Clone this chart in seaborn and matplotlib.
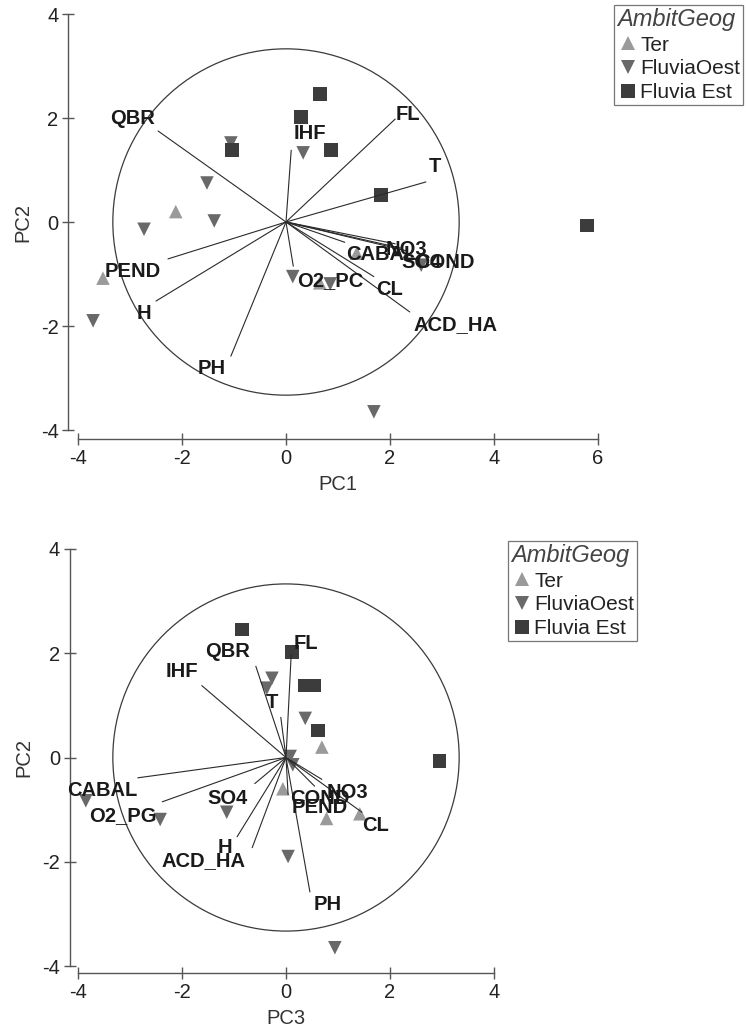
import pandas as pd
import matplotlib.pyplot as plt
import seaborn as sns
from matplotlib.patches import Circle

sns.set_style("white")
plt.rcParams['font.family'] = ['Liberation Sans', 'DejaVu Sans']
plt.rcParams['axes.unicode_minus'] = False

# /* observacions: ambit geografic i coordenades als components */
ambit = ["Ter"] * 4 + ["FluviaOest"] * 10 + ["Fluvia Est"] * 6
pc1 = [-2.12, -3.52, 1.36, 0.65,
       -1.06, 0.33, -1.52, -1.38, -2.73, -3.71, 0.13, 0.85, 2.60, 1.69,
       0.65, 0.29, 0.87, -1.04, 1.83, 5.79]
pc2 = [0.20, -1.08, -0.60, -1.17,
       1.52, 1.33, 0.75, 0.02, -0.14, -1.90, -1.05, -1.19, -0.83, -3.65,
       2.46, 2.02, 1.38, 1.38, 0.52, -0.07]
pc3 = [0.69, 1.42, -0.06, 0.78,
       -0.27, -0.37, 0.37, 0.08, 0.13, 0.04, -1.14, -2.42, -3.85, 0.94,
       -0.85, 0.12, 0.54, 0.37, 0.62, 2.95]

# /* carregues de les variables */
variables = ["QBR", "IHF", "FL", "T", "CABAL", "NO3", "SO4", "COND",
             "O2_PC", "CL", "ACD_HA", "PEND", "H", "PH"]
load_pc1 = [-2.46, 0.10, 2.10, 2.69, 1.13, 2.10, 2.20, 2.30,
            0.14, 1.69, 2.38, -2.27, -2.50, -1.06]
load_pc2 = [1.75, 1.38, 1.98, 0.77, -0.39, -0.42, -0.50, -0.55,
            -0.85, -1.05, -1.73, -0.71, -1.52, -2.58]
load_pc3 = [-0.58, -1.62, 0.10, -0.10, -2.85, 0.69, -0.60, 0.55,
            -2.38, 1.46, -0.65, 0.04, -0.94, 0.46]
etiquetes_pc3 = {"O2_PC": "O2_PG"}

CIRCLE_R = 3.33
ordre = ["Ter", "FluviaOest", "Fluvia Est"]
colors = {"Ter": "#9a9a9a", "FluviaOest": "#696969", "Fluvia Est": "#3c3c3c"}
markers = {"Ter": "^", "FluviaOest": "v", "Fluvia Est": "s"}

# desplacament (pixels) de cada etiqueta respecte l'extrem del vector
offs_1 = {"QBR": (-26, 13), "IHF": (19, 17), "FL": (13, 5), "T": (9, 15),
          "CABAL": (36, -12), "NO3": (11, -6), "SO4": (21, -14), "COND": (39, -12),
          "O2_PC": (37, -14), "CL": (16, -13), "ACD_HA": (46, -13),
          "PEND": (-35, -13), "H": (-12, -12), "PH": (-19, -12)}
offs_3 = {"QBR": (-28, 15), "IHF": (-20, 14), "FL": (15, 11), "T": (-9, 15),
          "CABAL": (-36, -13), "NO3": (26, -13), "SO4": (-27, -15), "COND": (5, -12),
          "O2_PC": (-39, -14), "CL": (14, -13), "ACD_HA": (-49, -13),
          "PEND": (32, -13), "H": (-12, -11), "PH": (18, -13)}

df = pd.DataFrame({"AmbitGeog": ambit, "PC1": pc1, "PC2": pc2, "PC3": pc3})
carregues = pd.DataFrame({"var": variables, "PC1": load_pc1,
                          "PC2": load_pc2, "PC3": load_pc3})

W, H = 746, 1027
fig = plt.figure(figsize=(W / 100, H / 100), dpi=100)


def biplot(rect, xcol, xlim, xticks, offs, etiq, outward, legend_pos):
    ax = fig.add_axes(rect)
    ax.add_patch(Circle((0, 0), CIRCLE_R, fill=False, ec="#3a3a3a", lw=0.9, clip_on=False))
    for _, r in carregues.iterrows():
        ax.plot([0, r[xcol]], [0, r["PC2"]], color="#2a2a2a", lw=0.8, clip_on=False)
    sns.scatterplot(data=df, x=xcol, y="PC2", hue="AmbitGeog", style="AmbitGeog",
                    hue_order=ordre, style_order=ordre, palette=colors, markers=markers,
                    s=95, linewidth=0, alpha=1, ax=ax, clip_on=False)
    for _, r in carregues.iterrows():
        txt = etiq.get(r["var"], r["var"])
        ax.annotate(txt, xy=(r[xcol], r["PC2"]), xytext=offs[r["var"]],
                    textcoords="offset pixels", ha="center", va="center",
                    fontsize=14.5, fontweight="bold", color="#1a1a1a",
                    annotation_clip=False)

    ax.set_xlim(*xlim)
    ax.set_ylim(-4, 4)
    ax.set_xticks(xticks)
    ax.set_yticks([-4, -2, 0, 2, 4])
    for s in ["top", "right"]:
        ax.spines[s].set_visible(False)
    ax.spines["left"].set_position(("outward", outward[0]))
    ax.spines["bottom"].set_position(("outward", outward[1]))
    ax.spines["left"].set_bounds(-4, 4)
    ax.spines["bottom"].set_bounds(xlim[0], xlim[1])
    for s in ["left", "bottom"]:
        ax.spines[s].set_color("#555555")
        ax.spines[s].set_linewidth(1.0)
    ax.tick_params(direction="inout", length=8, width=1, colors="#555555",
                   labelcolor="#222222", labelsize=14.5, left=True, bottom=True, pad=3)
    ax.set_xlabel(xcol, fontsize=14.5, color="#333333", labelpad=5)
    ax.set_ylabel("PC2", fontsize=14.5, color="#333333", labelpad=6)

    handles, labels = ax.get_legend_handles_labels()
    ax.get_legend().remove()
    leg = ax.legend(handles, labels, title="AmbitGeog", loc="upper left",
                    bbox_to_anchor=legend_pos, bbox_transform=fig.transFigure,
                    frameon=True, fancybox=False, edgecolor="#555555",
                    fontsize=15, title_fontsize=17, alignment="left",
                    handletextpad=0.1, handlelength=1.0, borderpad=0.15,
                    labelspacing=0.22, borderaxespad=0, markerscale=1.05)
    leg.get_frame().set_linewidth(0.9)
    leg.get_title().set_fontstyle("italic")
    leg.get_title().set_color("#444444")
    for t in leg.get_texts():
        t.set_color("#222222")
    return ax


ax1 = biplot([78 / W, 1 - 430 / H, 520 / W, 416 / H], "PC1", (-4, 6),
             [-4, -2, 0, 2, 4, 6], offs_1, {}, (7, 6.5), (614 / W, 1 - 5 / H))
ax2 = biplot([78 / W, 1 - 966 / H, 416 / W, 417 / H], "PC3", (-4, 4),
             [-4, -2, 0, 2, 4], offs_3, etiquetes_pc3, (6, 5), (508 / W, 1 - 541 / H))

fig.savefig("out.png", dpi=100)
